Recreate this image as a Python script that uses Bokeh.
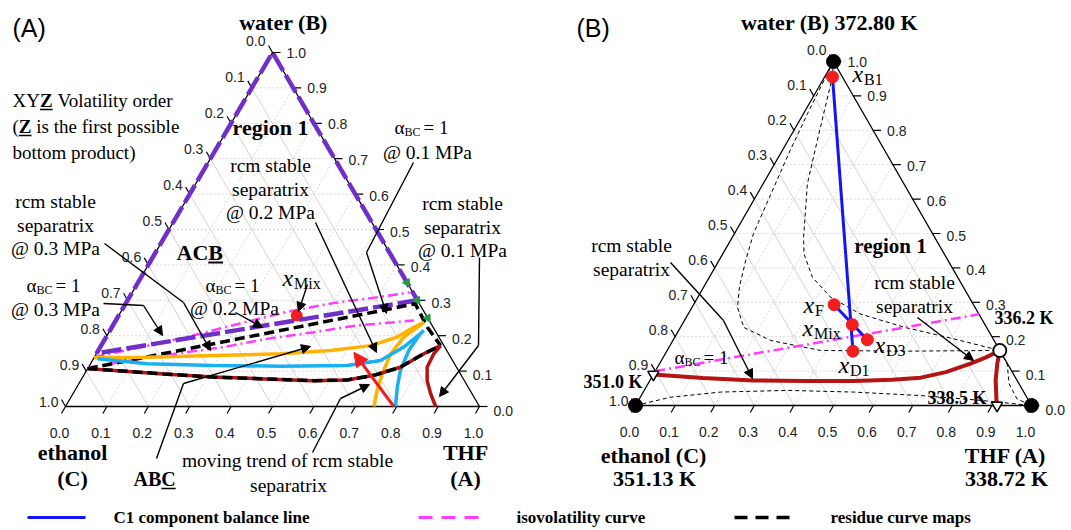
import numpy as np
from bokeh.plotting import figure
from bokeh.models import Range1d, Arrow, NormalHead
from bokeh.embed import file_html
from bokeh.resources import INLINE
from bokeh.core.properties import value

# ---------------- data: compositions (A = THF, B = water; C = 1 - A - B) ----------------
TICKS = [0.0, 0.1, 0.2, 0.3, 0.4, 0.5, 0.6, 0.7, 0.8, 0.9, 1.0]
TICK_LABELS = ["0.0", "0.1", "0.2", "0.3", "0.4", "0.5", "0.6", "0.7", "0.8", "0.9", "1.0"]
GRID = [0.1, 0.2, 0.3, 0.4, 0.5, 0.6, 0.7, 0.8, 0.9]

# Panel (A)
a_region_A = [0.70, 0.00, 0.00, 0.70]
a_region_B = [0.30, 0.15, 1.00, 0.30]
a_azeo_A = [0.65, 0.70, 0.75]
a_azeo_B = [0.35, 0.30, 0.25]
a_iso_hi_A = [0.0, 0.10, 0.20, 0.30, 0.40, 0.50, 0.60, 0.67]
a_iso_hi_B = [0.14, 0.168, 0.198, 0.233, 0.267, 0.292, 0.309, 0.322]
a_iso_lo_A = [0.0, 0.128, 0.298, 0.391, 0.495, 0.59, 0.72]
a_iso_lo_B = [0.11, 0.138, 0.168, 0.191, 0.21, 0.229, 0.243]
a_sep_up_A = [0.0, 0.70, 0.762, 0.82]
a_sep_up_B = [0.107, 0.29, 0.224, 0.172]
a_sep_lo_A = [0.0, 0.066, 0.191, 0.317, 0.44, 0.563, 0.643, 0.701, 0.753, 0.791, 0.82]
a_sep_lo_B = [0.107, 0.102, 0.092, 0.083, 0.078, 0.073, 0.075, 0.088, 0.111, 0.149, 0.172]
a_sep_br_A = [0.82, 0.815, 0.818, 0.837, 0.864, 0.894]
a_sep_br_B = [0.172, 0.149, 0.111, 0.073, 0.036, 0.0]
a_or_A = [0.0, 0.128, 0.286, 0.445, 0.561, 0.651, 0.703, 0.729, 0.747]
a_or_B = [0.138, 0.139, 0.144, 0.149, 0.158, 0.172, 0.196, 0.224, 0.238]
a_or_br_A = [0.747, 0.719, 0.711, 0.719, 0.73, 0.745]
a_or_br_B = [0.238, 0.196, 0.149, 0.092, 0.045, 0.0]
a_sky_A = [0.01, 0.137, 0.30, 0.462, 0.622, 0.696, 0.733, 0.754, 0.758]
a_sky_B = [0.135, 0.121, 0.116, 0.114, 0.116, 0.13, 0.168, 0.205, 0.215]
a_sky_br_A = [0.754, 0.75, 0.758, 0.774, 0.797]
a_sky_br_B = [0.205, 0.158, 0.102, 0.055, 0.0]
a_trend_A = [0.793, 0.62]
a_trend_B = [0.0, 0.153]
a_mix_A = [0.43]
a_mix_B = [0.257]

# Panel (B)
b_vert_A = [0.0, 0.0, 1.0]
b_vert_B = [1.0, 0.0, 0.0]
b_pts_names = ["B1", "F", "Mix", "D3", "D1"]
b_pts_A = [0.02, 0.355, 0.43, 0.49, 0.47]
b_pts_B = [0.955, 0.293, 0.235, 0.191, 0.158]
b_azeo_A = [0.84]
b_azeo_B = [0.16]
b_binazeo_A = [0.0, 0.913]
b_binazeo_B = [0.09, 0.0]
b_sep_A = [0.0, 0.13, 0.26, 0.39, 0.515, 0.61, 0.68, 0.735, 0.785, 0.815, 0.84]
b_sep_B = [0.09, 0.08, 0.073, 0.071, 0.071, 0.075, 0.081, 0.097, 0.122, 0.14, 0.16]
b_sep_br_A = [0.84, 0.853, 0.873, 0.904, 0.913]
b_sep_br_B = [0.16, 0.121, 0.073, 0.015, 0.0]
b_iso_A = [0.0, 0.735]
b_iso_B = [0.10, 0.265]
b_rc1_A = [0.0, 0.01, 0.02, 0.048, 0.068, 0.09, 0.115, 0.16, 0.247, 0.387, 0.6, 0.84]
b_rc1_B = [1.0, 0.85, 0.74, 0.5, 0.42, 0.345, 0.285, 0.227, 0.189, 0.16, 0.158, 0.16]
b_rc2_A = [0.0, 0.02, 0.074, 0.112, 0.18, 0.205, 0.26, 0.335, 0.435, 0.563, 0.706, 0.84]
b_rc2_B = [1.0, 0.954, 0.77, 0.644, 0.489, 0.441, 0.373, 0.315, 0.266, 0.228, 0.194, 0.16]
b_rc3_A = [0.0, 0.076, 0.195, 0.361, 0.532, 0.705, 0.864, 1.0]
b_rc3_B = [0.0, 0.024, 0.039, 0.044, 0.039, 0.029, 0.015, 0.0]
b_rc4_A = [0.84, 0.878, 0.912, 0.954, 1.0]
b_rc4_B = [0.16, 0.121, 0.063, 0.019, 0.0]

LEGEND_LABELS = ["C1 component balance line", "isovolatility curve", "residue curve maps"]

# ---------------- styling / layout ----------------
PURPLE = "#7030C8"
PINK = "#FF3CFF"
ORANGE = "#FFB300"
SKY = "#18B0F0"
DARKRED = "#B41414"
RED = "#F01E1E"
GREEN = "#1E9E3C"
BLUE = "#1414F5"
SERIF = "Liberation Serif"
SANS = "Liberation Sans"

PA = (65.0, 406.0, 414.0, 354.0)   # left-vertex x, y, side width, height (page units)
PB = (635.0, 405.0, 396.0, 344.0)

p = figure(width=1071, height=530, x_range=Range1d(0, 1071), y_range=Range1d(530, 0),
           output_backend="svg", toolbar_location=None, x_axis_type=None, y_axis_type=None,
           min_border=0)
p.grid.visible = False
p.outline_line_color = None
p.background_fill_color = "white"
p.border_fill_color = "white"


def tern(P, a, b):
    a = np.asarray(a, dtype=float)
    b = np.asarray(b, dtype=float)
    return P[0] + (a + b / 2.0) * P[2], P[1] - b * P[3]


def txt(x, y, s, size, align="center", style="normal", font=SERIF, color="black"):
    p.text(x=[x], y=[y], text=[s], text_font=value(font), text_font_size=f"{size}px",
           text_align=align, text_baseline="middle", text_font_style=style, text_color=color)


def arrow(pts, head=9, color="black", width=1.4):
    xs = [q[0] for q in pts]
    ys = [q[1] for q in pts]
    if len(pts) > 2:
        p.line(xs[:-1], ys[:-1], line_color=color, line_width=width)
    p.add_layout(Arrow(end=NormalHead(size=head, fill_color=color, line_color=color),
                       x_start=xs[-2], y_start=ys[-2], x_end=xs[-1], y_end=ys[-1],
                       line_color=color, line_width=width))


def alpha_label(x, y, size=19):
    txt(x, y, "α", size, align="left")
    txt(x + 10, y + 4, "BC", 12, align="left")
    txt(x + 29, y, "= 1", size, align="left")


def x_label(x, y, sub):
    txt(x, y, "x", 24, align="left", style="italic")
    txt(x + 11.5, y + 6, sub, 16, align="left")


def frame(P):
    xs_s, ys_s, xs_d, ys_d = [], [], [], []
    for t in GRID:
        x, y = tern(P, [t, t], [0, 1 - t]); xs_d.append(list(x)); ys_d.append(list(y))
        x, y = tern(P, [0, 1 - t], [t, t]); xs_d.append(list(x)); ys_d.append(list(y))
        x, y = tern(P, [1 - t, 0], [0, 1 - t]); xs_s.append(list(x)); ys_s.append(list(y))
    p.multi_line(xs_d, ys_d, line_color="#d8d8d8", line_width=1, line_dash="2 2")
    p.multi_line(xs_s, ys_s, line_color="#d4d4d4", line_width=1)
    x, y = tern(P, [0, 1, 0, 0], [0, 0, 1, 0])
    p.line(x, y, line_color="black", line_width=1.3)
    t = np.array(TICKS)
    bx, by = tern(P, t, np.zeros_like(t))
    rx, ry = tern(P, 1 - t, t)
    lx, ly = tern(P, np.zeros_like(t), 1 - t)
    p.segment(bx, by, bx - 4, by + 7, line_color="black", line_width=1.2)
    p.segment(rx, ry, rx + 8, ry, line_color="black", line_width=1.2)
    p.segment(lx, ly, lx - 4, ly - 7, line_color="black", line_width=1.2)
    p.text(x=bx - 6, y=by + 26, text=TICK_LABELS, text_font=value(SANS), text_font_size="14px",
           text_align="center", text_baseline="middle", text_color="#222222")
    p.text(x=rx + 14, y=ry + 4 * (1 - t), text=TICK_LABELS, text_font=value(SANS),
           text_font_size="14px", text_align="left", text_baseline="middle", text_color="#222222")
    p.text(x=lx - 7, y=ly - 12 + 7 * t, text=TICK_LABELS, text_font=value(SANS),
           text_font_size="14px", text_align="right", text_baseline="middle", text_color="#222222")


# ======================= Panel (A) =======================
frame(PA)
p.line(*tern(PA, a_iso_hi_A, a_iso_hi_B), line_color=PINK, line_width=2.5, line_dash="10 4 2 4")
p.line(*tern(PA, a_iso_lo_A, a_iso_lo_B), line_color=PINK, line_width=2.5, line_dash="10 4 2 4")
p.scatter(*tern(PA, a_mix_A, a_mix_B), size=11, color=RED)
p.line(*tern(PA, a_region_A, a_region_B), line_color=PURPLE, line_width=4.5, line_dash="20 5")
p.line(*tern(PA, a_sep_up_A, a_sep_up_B), line_color="black", line_width=3.5, line_dash="10 5")
p.line(*tern(PA, a_or_A, a_or_B), line_color=ORANGE, line_width=3.5)
p.line(*tern(PA, a_or_br_A, a_or_br_B), line_color=ORANGE, line_width=3.5)
p.line(*tern(PA, a_sky_A, a_sky_B), line_color=SKY, line_width=3.5)
p.line(*tern(PA, a_sky_br_A, a_sky_br_B), line_color=SKY, line_width=3.5)
p.line(*tern(PA, a_sep_lo_A, a_sep_lo_B), line_color=DARKRED, line_width=3.5)
p.line(*tern(PA, a_sep_br_A, a_sep_br_B), line_color=DARKRED, line_width=3.5)
p.line(*tern(PA, a_sep_lo_A, a_sep_lo_B), line_color="black", line_width=3.5, line_dash="10 5")
p.scatter(*tern(PA, a_azeo_A, a_azeo_B), marker="triangle", size=8, color=GREEN, angle=-0.5)
tx, ty = tern(PA, a_trend_A, a_trend_B)
p.add_layout(Arrow(end=NormalHead(size=14, fill_color=RED, line_color=RED),
                   x_start=tx[0], y_start=ty[0], x_end=tx[1], y_end=ty[1],
                   line_color=RED, line_width=3))

for pts in [
    [(104, 243), (183, 302), (210, 350)],
    [(103, 303), (143, 305), (162, 335)],
    [(235, 312), (262, 327)],
    [(307, 284), (298, 311)],
    [(315, 222), (376, 352)],
    [(413, 162), (366, 252), (386, 313)],
    [(479, 257), (478, 345), (439, 396)],
    [(156, 458), (183, 383), (310, 346)],
    [(312, 452), (340, 398), (369, 384)],
]:
    arrow(pts)

txt(12, 27, "(A)", 25, align="left", font=SANS)
txt(283, 22, "water (B)", 22, style="bold")
txt(12, 100, "XY", 19, align="left")
txt(39.4, 100, "Z", 19, align="left", style="bold")
txt(56.9, 100, "Volatility order", 19, align="left")
txt(12, 126, "(", 19, align="left")
txt(18.3, 126, "Z", 19, align="left", style="bold")
txt(35.8, 126, "is the first possible", 19, align="left")
txt(12, 152, "bottom product)", 19, align="left")
p.segment([39.4, 18.3], [109, 135], [52.1, 31.0], [109, 135], line_color="black", line_width=1.5)
txt(270, 127, "region 1", 22, style="bold")
for s, y in [("rcm stable", 165), ("separatrix", 189), ("@ 0.2 MPa", 212)]:
    txt(270, y, s, 19.5)
alpha_label(394, 127)
txt(427, 152, "@ 0.1 MPa", 19.5)
for s, y in [("rcm stable", 203), ("separatrix", 227), ("@ 0.1 MPa", 250)]:
    txt(462, y, s, 19.5)
for s, y in [("rcm stable", 201), ("separatrix", 225), ("@ 0.3 MPa", 248)]:
    txt(55, y, s, 19.5)
txt(176, 252, "ACB", 22, align="left", style="bold")
p.segment([207.8], [262], [222.5], [262], line_color="black", line_width=1.8)
alpha_label(26, 285)
txt(55, 309, "@ 0.3 MPa", 19.5)
alpha_label(205, 285)
txt(234, 308, "@ 0.2 MPa", 19.5)
x_label(282, 277, "Mix")
txt(72, 452, "ethanol", 22, style="bold")
txt(72, 478, "(C)", 22, style="bold")
txt(465, 452, "THF", 22, style="bold")
txt(465, 478, "(A)", 22, style="bold")
txt(133, 478, "ABC", 20, align="left", style="bold")
p.segment([160.8], [488], [175.2], [488], line_color="black", line_width=1.6)
txt(287, 460, "moving trend of rcm stable", 19.5)
txt(288, 485, "separatrix", 19.5)

# ======================= Panel (B) =======================
frame(PB)
for ra, rb in [(b_rc1_A, b_rc1_B), (b_rc2_A, b_rc2_B), (b_rc3_A, b_rc3_B), (b_rc4_A, b_rc4_B)]:
    p.line(*tern(PB, ra, rb), line_color="black", line_width=1, line_dash="4 3")
p.line(*tern(PB, b_iso_A, b_iso_B), line_color=PINK, line_width=2.5, line_dash="10 4 2 4")
p.line(*tern(PB, b_sep_A, b_sep_B), line_color=DARKRED, line_width=4)
p.line(*tern(PB, b_sep_br_A, b_sep_br_B), line_color=DARKRED, line_width=4)
p.line(*tern(PB, [b_pts_A[0], b_pts_A[4]], [b_pts_B[0], b_pts_B[4]]), line_color=BLUE, line_width=3)
p.line(*tern(PB, [b_pts_A[1], b_pts_A[3]], [b_pts_B[1], b_pts_B[3]]), line_color=BLUE, line_width=3)
p.scatter(*tern(PB, b_pts_A, b_pts_B), size=12, color=RED)
p.scatter(*tern(PB, b_vert_A, b_vert_B), size=14, color="black")
p.scatter(*tern(PB, b_azeo_A, b_azeo_B), size=13, fill_color="white", line_color="black", line_width=1.8)
p.scatter(*tern(PB, b_binazeo_A, b_binazeo_B), marker="inverted_triangle", size=11,
          fill_color="white", line_color="black", line_width=1.5)

arrow([(670, 262), (723, 320), (752, 378)])
arrow([(917, 317), (973, 360)])

txt(576, 27, "(B)", 25, align="left", font=SANS)
txt(829, 22, "water (B) 372.80 K", 22, style="bold")
txt(890, 245, "region 1", 21, style="bold")
txt(631, 245, "rcm stable", 19.5)
txt(631, 269, "separatrix", 19.5)
txt(914, 282, "rcm stable", 19.5)
txt(914, 306, "separatrix", 19.5)
alpha_label(674, 357)
for (lx, ly), s in zip([(852, 73), (803, 304), (802, 327), (874, 344), (838, 364)], b_pts_names):
    x_label(lx, ly, s)
txt(994, 317, "336.2 K", 18, align="left", style="bold")
txt(642, 381, "351.0 K", 18, align="right", style="bold")
txt(986, 397, "338.5 K", 18, align="right", style="bold")
txt(653, 455, "ethanol (C)", 22, style="bold")
txt(654, 478, "351.13 K", 22, style="bold")
txt(1005, 455, "THF (A)", 22, style="bold")
txt(1006, 478, "338.72 K", 22, style="bold")

# ======================= Legend =======================
p.line([27, 85], [517, 517], line_color=BLUE, line_width=3)
p.line([418, 478], [517, 517], line_color=PINK, line_width=3, line_dash="14 9")
p.line([734, 789], [517, 517], line_color="black", line_width=3.5, line_dash="13 8")
for xl, s in zip([113, 516, 830], LEGEND_LABELS):
    txt(xl, 517, s, 17, align="left", style="bold")

open("out.html", "w").write(file_html(p, INLINE))
